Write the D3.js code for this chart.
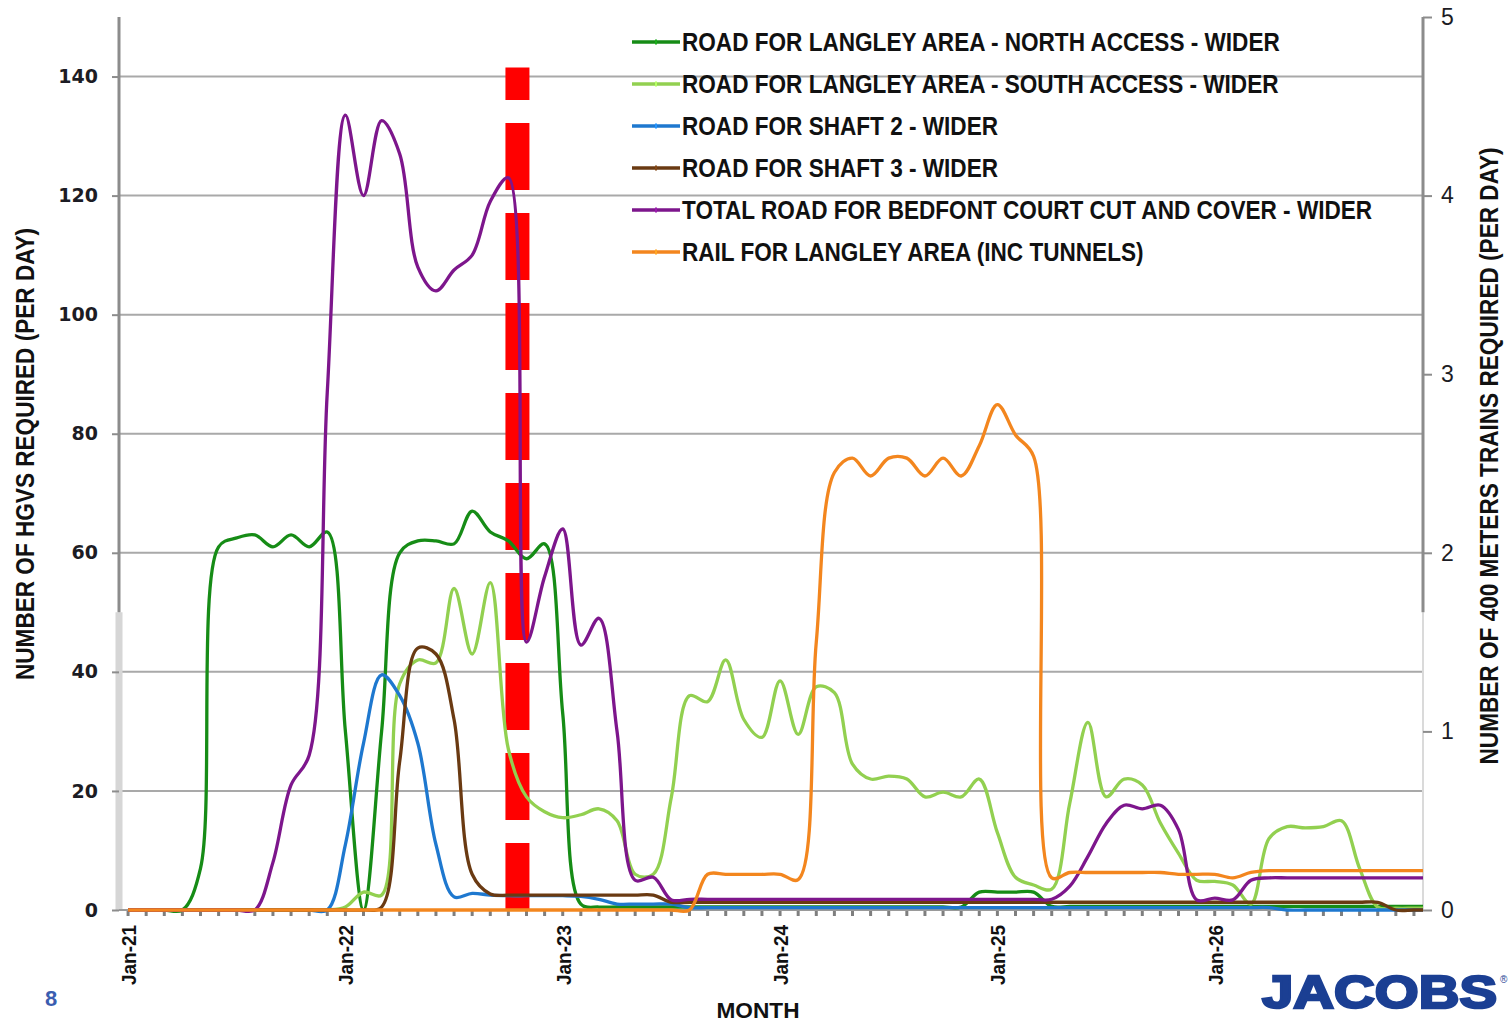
<!DOCTYPE html>
<html>
<head>
<meta charset="utf-8">
<script src="https://cdn.jsdelivr.net/npm/d3@7"></script>
<style>
  body { margin: 0; background: #fff; }
  text { font-family: "Liberation Sans Narrow", "Liberation Sans", Arial, sans-serif; }
</style>
</head>
<body>
<script>
let svgWidth = 1510;
let svgHeight = 1023;

let margin = { top: 17, right: 87, bottom: 113, left: 119 };

let chartWidth = svgWidth - margin.left - margin.right;
let chartHeight = svgHeight - margin.top - margin.bottom;

// month index 0 = Jan-21 ... 72 = Jan-27
let xTickIndex = [0, 12, 24, 36, 48, 60];
let xTickLabels = ["Jan-21", "Jan-22", "Jan-23", "Jan-24", "Jan-25", "Jan-26"];
let leftTicks = [0, 20, 40, 60, 80, 100, 120, 140];
let rightTicks = [0, 1, 2, 3, 4, 5];

let seriesNames = [
    "ROAD FOR LANGLEY AREA - NORTH ACCESS - WIDER",
    "ROAD FOR LANGLEY AREA - SOUTH ACCESS - WIDER",
    "ROAD FOR SHAFT 2 - WIDER",
    "ROAD FOR SHAFT 3 - WIDER",
    "TOTAL ROAD FOR BEDFONT COURT CUT AND COVER - WIDER",
    "RAIL FOR LANGLEY AREA (INC TUNNELS)"
];

// HGVs per day (left axis)
let northAccess = [0, 0, 0, 0, 7, 61, 62.5, 63, 61, 63, 61, 63.5, 30, 0, 30, 60, 62, 62, 61.5, 67,
    63.5, 62, 59, 61.5, 33, 1, 0.5, 0.5, 0.5, 0.5, 0.5, 0.5, 0.5, 0.5, 0.5, 0.5, 0.5, 0.5, 0.5, 0.5,
    0.5, 0.5, 0.5, 0.5, 0.5, 0.5, 0.5, 3, 3, 3, 3, 0.6, 0.6, 0.6, 0.6, 0.6, 0.6, 0.6, 0.6, 0.6,
    0.6, 0.6, 0.6, 0.6, 0.6, 0.6, 0.6, 0.6, 0.6, 0.6, 0.6, 0.6, 0.6];
let southAccess = [0, 0, 0, 0, 0, 0, 0, 0, 0, 0, 0, 0, 0.5, 3, 2.5, 38, 42, 41.5, 54, 43,
    55, 27, 19, 16.5, 15.5, 16, 17, 15, 6, 6, 19, 36, 35, 42, 32, 29, 38.5, 29.5, 37.5, 36.5,
    24.5, 22, 22.5, 22, 19, 19.8, 19, 22, 13, 5.5, 4.2, 3.5, 18, 31.5, 19, 22, 21, 14.6, 9.5, 5,
    4.8, 4.2, 1, 12, 14, 13.8, 14, 15, 7, 0.5, 0.3, 0.3, 0.3];
let shaft2 = [0, 0, 0, 0, 0, 0, 0, 0, 0, 0, 0, 0, 11, 28, 39.5, 36, 28, 11, 2.2, 2.8,
    2.5, 2.4, 2.4, 2.4, 2.4, 2.3, 1.8, 1, 1, 1, 1, 0.4, 0.4, 0.4, 0.4, 0.4, 0.4, 0.4, 0.4, 0.4,
    0.4, 0.4, 0.4, 0.4, 0.4, 0.4, 0.4, 0.4, 0.4, 0.4, 0.4, 0.4, 0.4, 0.4, 0.4, 0.4, 0.4, 0.4, 0.4, 0.4,
    0.4, 0.4, 0.4, 0.4, 0, 0, 0, 0, 0, 0, 0, 0, 0];
let shaft3 = [0, 0, 0, 0, 0, 0, 0, 0, 0, 0, 0, 0, 0, 0, 0.5, 25, 44, 43, 32, 6,
    2.7, 2.5, 2.5, 2.5, 2.5, 2.5, 2.5, 2.5, 2.5, 2.5, 1.3, 1.3, 1.3, 1.3, 1.3, 1.3, 1.3, 1.3, 1.3, 1.3,
    1.3, 1.3, 1.3, 1.3, 1.3, 1.3, 1.3, 1.3, 1.3, 1.3, 1.3, 1.3, 1.3, 1.3, 1.3, 1.3, 1.3, 1.3, 1.3, 1.3,
    1.3, 1.3, 1.3, 1.3, 1.3, 1.3, 1.3, 1.3, 1.3, 1.3, 0, 0, 0];
let totalBedfont = [0, 0, 0, 0, 0, 0, 0, 0, 8, 21, 26, 87, 133.5, 120, 132.6, 127, 108, 104, 107.5, 110,
    119, 123, 45, 56, 64, 44.5, 49, 30, 5, 5.5, 1.7, 1.8, 1.8, 1.8, 1.8, 1.8, 1.8, 1.8, 1.8, 1.8,
    1.8, 1.8, 1.8, 1.8, 1.8, 1.8, 1.8, 1.8, 1.8, 1.8, 1.8, 1.8, 4, 9, 14.5, 17.6, 17, 17.6, 13.5, 1.7,
    2, 1.7, 5, 5.4, 5.4, 5.4, 5.4, 5.4, 5.4, 5.4, 5.4, 5.4, 5.4];
// 400m trains per day (right axis)
let railLangley = [0, 0, 0, 0, 0, 0, 0, 0, 0, 0, 0, 0, 0, 0, 0, 0, 0, 0, 0, 0,
    0, 0, 0, 0, 0, 0, 0, 0, 0, 0, 0, 0, 0.2, 0.2, 0.2, 0.2, 0.2, 0.17, 1.5, 2.45,
    2.53, 2.43, 2.53, 2.53, 2.43, 2.53, 2.43, 2.6, 2.83, 2.66, 2.54, 0.18, 0.21, 0.21, 0.21, 0.21, 0.21, 0.21, 0.2, 0.2,
    0.2, 0.18, 0.21, 0.22, 0.22, 0.22, 0.22, 0.22, 0.22, 0.22, 0.22, 0.22, 0.22];

let seriesValues = [northAccess, southAccess, shaft2, shaft3, totalBedfont, railLangley];
let seriesAxis = ["left", "left", "left", "left", "left", "right"];
let seriesColors = ["#168c16", "#92d050", "#1e78cf", "#6a3a12", "#7d168c", "#f3861e"];

// red dashed marker
let markerMonth = 21.5;
let markerTop = 141.5;
let axisShadeBelow = 50;

let svg = d3.select("body")
    .append("svg")
    .attr("width", svgWidth)
    .attr("height", svgHeight);

let chartGroup = svg.append("g")
    .attr("transform", `translate(${margin.left}, ${margin.top})`);

let xScale = d3.scaleLinear().domain([-0.5, 71.5]).range([0, chartWidth]);
let yLeft = d3.scaleLinear().domain([0, 150]).range([chartHeight, 0]);
let yRight = d3.scaleLinear().domain([0, 5]).range([chartHeight, 0]);

svg.append("defs").append("clipPath").attr("id", "plotClip")
    .append("rect").attr("x", -4).attr("y", -10)
    .attr("width", chartWidth + 4).attr("height", chartHeight + 20);

// gridlines
chartGroup.append("g")
    .selectAll("line")
    .data(leftTicks.filter(d => d > 0))
    .enter().append("line")
    .attr("x1", 0).attr("x2", chartWidth)
    .attr("y1", d => yLeft(d)).attr("y2", d => yLeft(d))
    .attr("stroke", "#a9a9a9").attr("stroke-width", 2);

// axis lines (dark top, light lower part)
chartGroup.append("line")
    .attr("x1", 0).attr("x2", 0).attr("y1", yLeft(axisShadeBelow)).attr("y2", chartHeight)
    .attr("stroke", "#d6d6d6").attr("stroke-width", 7);
chartGroup.append("line")
    .attr("x1", 0).attr("x2", 0).attr("y1", 0).attr("y2", yLeft(axisShadeBelow))
    .attr("stroke", "#8c8c8c").attr("stroke-width", 3);
chartGroup.append("line")
    .attr("x1", chartWidth).attr("x2", chartWidth).attr("y1", yLeft(axisShadeBelow)).attr("y2", chartHeight)
    .attr("stroke", "#dadada").attr("stroke-width", 2);
chartGroup.append("line")
    .attr("x1", chartWidth).attr("x2", chartWidth).attr("y1", 0).attr("y2", yLeft(axisShadeBelow))
    .attr("stroke", "#8c8c8c").attr("stroke-width", 3);
chartGroup.append("line")
    .attr("x1", 0).attr("x2", chartWidth).attr("y1", chartHeight).attr("y2", chartHeight)
    .attr("stroke", "#9a9a9a").attr("stroke-width", 2);

// left axis
let leftAxis = d3.axisLeft(yLeft).tickValues(leftTicks).tickSize(7).tickPadding(14);
let leftG = chartGroup.append("g").call(leftAxis);
leftG.select(".domain").remove();
leftG.selectAll("line").attr("stroke", "#8c8c8c").attr("stroke-width", 2);
leftG.selectAll("text")
    .style("font-family", "'DejaVu Sans', Verdana, sans-serif")
    .style("font-weight", "bold").style("font-size", "19px").attr("fill", "#1c1c24");

// right axis
let rightAxis = d3.axisRight(yRight).tickValues(rightTicks).tickFormat(d3.format("d"))
    .tickSize(9).tickPadding(9);
let rightG = chartGroup.append("g")
    .attr("transform", `translate(${chartWidth}, 0)`)
    .call(rightAxis);
rightG.select(".domain").remove();
rightG.selectAll("line").attr("stroke", "#8c8c8c").attr("stroke-width", 2);
rightG.selectAll("text")
    .style("font-family", "'Liberation Sans', Arial, sans-serif")
    .style("font-size", "23px").attr("fill", "#1c1c24");

// small category ticks under the axis
chartGroup.append("g")
    .selectAll("line")
    .data(d3.range(0, 72))
    .enter().append("line")
    .attr("x1", d => xScale(d)).attr("x2", d => xScale(d))
    .attr("y1", chartHeight + 1).attr("y2", chartHeight + 6)
    .attr("stroke", "#7f7f7f").attr("stroke-width", 3);

// X axis labels
let bottomAxis = d3.axisBottom(xScale)
    .tickValues(xTickIndex)
    .tickFormat((d, i) => xTickLabels[i])
    .tickSize(0);
let bottomG = chartGroup.append("g")
    .attr("transform", `translate(0, ${chartHeight})`)
    .call(bottomAxis);
bottomG.select(".domain").remove();
bottomG.selectAll("text")
    .attr("transform", "rotate(-90)")
    .attr("x", -15).attr("y", 0).attr("dy", "0.36em")
    .attr("text-anchor", "end")
    .style("font-weight", "bold").style("font-size", "21px")
    .attr("fill", "#111")
    .attr("textLength", 60).attr("lengthAdjust", "spacingAndGlyphs");

// red dashed line
chartGroup.append("line")
    .attr("x1", xScale(markerMonth)).attr("x2", xScale(markerMonth))
    .attr("y1", yLeft(0)).attr("y2", yLeft(markerTop))
    .attr("stroke", "#ff0000").attr("stroke-width", 24)
    .attr("stroke-dasharray", "67 23");

// series lines
let linesG = chartGroup.append("g").attr("clip-path", "url(#plotClip)");
seriesValues.forEach(function(values, s) {
    let yScale = seriesAxis[s] === "right" ? yRight : yLeft;
    let drawLine = d3.line()
        .x((d, i) => xScale(i))
        .y(d => yScale(d))
        .curve(d3.curveCatmullRom.alpha(0.5));
    linesG.append("path")
        .datum(values)
        .attr("d", drawLine)
        .attr("fill", "none")
        .attr("stroke", seriesColors[s])
        .attr("stroke-width", 3.3)
        .attr("stroke-linejoin", "round");
});

// legend
let legend = svg.append("g").attr("transform", "translate(632, 42)");
let rows = legend.selectAll("g")
    .data(seriesNames)
    .enter().append("g")
    .attr("transform", (d, i) => `translate(0, ${i * 42})`);
rows.append("line")
    .attr("x1", 0).attr("x2", 48).attr("y1", 0).attr("y2", 0)
    .attr("stroke", (d, i) => seriesColors[i]).attr("stroke-width", 3.3);
rows.append("line")
    .attr("x1", 24).attr("x2", 24).attr("y1", -2.5).attr("y2", 2.5)
    .attr("stroke", (d, i) => d3.color(seriesColors[i]).brighter(0.6)).attr("stroke-width", 2);
let legendTexts = rows.append("text")
    .attr("x", 0).attr("y", 9)
    .style("font-weight", "bold").style("font-size", "25px")
    .attr("fill", "#111")
    .text(d => d);
// squeeze the labels horizontally so the first one is as wide as in the picture
let k = 598 / legendTexts.node().getComputedTextLength();
legendTexts.attr("transform", `translate(50, 0) scale(${k}, 1)`);

// axis titles
svg.append("text")
    .attr("transform", "translate(25, 454) rotate(-90)")
    .attr("text-anchor", "middle").attr("dy", "0.36em")
    .style("font-weight", "bold").style("font-size", "25px").attr("fill", "#111")
    .attr("textLength", 452).attr("lengthAdjust", "spacingAndGlyphs")
    .text("NUMBER OF HGVS REQUIRED (PER DAY)");
svg.append("text")
    .attr("transform", "translate(1489, 456) rotate(-90)")
    .attr("text-anchor", "middle").attr("dy", "0.36em")
    .style("font-weight", "bold").style("font-size", "25px").attr("fill", "#111")
    .attr("textLength", 617).attr("lengthAdjust", "spacingAndGlyphs")
    .text("NUMBER OF 400 METERS TRAINS REQUIRED (PER DAY)");
svg.append("text")
    .attr("x", 758).attr("y", 1018)
    .attr("text-anchor", "middle")
    .style("font-weight", "bold").style("font-size", "22px").attr("fill", "#111")
    .attr("textLength", 83).attr("lengthAdjust", "spacingAndGlyphs")
    .text("MONTH");

// page number and logo
svg.append("text")
    .attr("x", 51).attr("y", 1006)
    .attr("text-anchor", "middle")
    .style("font-family", "'Liberation Sans', Arial, sans-serif")
    .style("font-weight", "bold").style("font-size", "22px").attr("fill", "#3a5db0")
    .text("8");
svg.append("text")
    .attr("x", 1262).attr("y", 1008)
    .style("font-family", "'Liberation Sans', Arial, sans-serif")
    .style("font-weight", "bold").style("font-size", "47px")
    .attr("fill", "#1b3f93").attr("stroke", "#1b3f93").attr("stroke-width", 2.5)
    .attr("textLength", 235).attr("lengthAdjust", "spacingAndGlyphs")
    .text("JACOBS");
svg.append("text")
    .attr("x", 1500).attr("y", 983)
    .style("font-family", "'Liberation Sans', Arial, sans-serif")
    .style("font-size", "10px").attr("fill", "#1b3f93")
    .text("®");
</script>
</body>
</html>
